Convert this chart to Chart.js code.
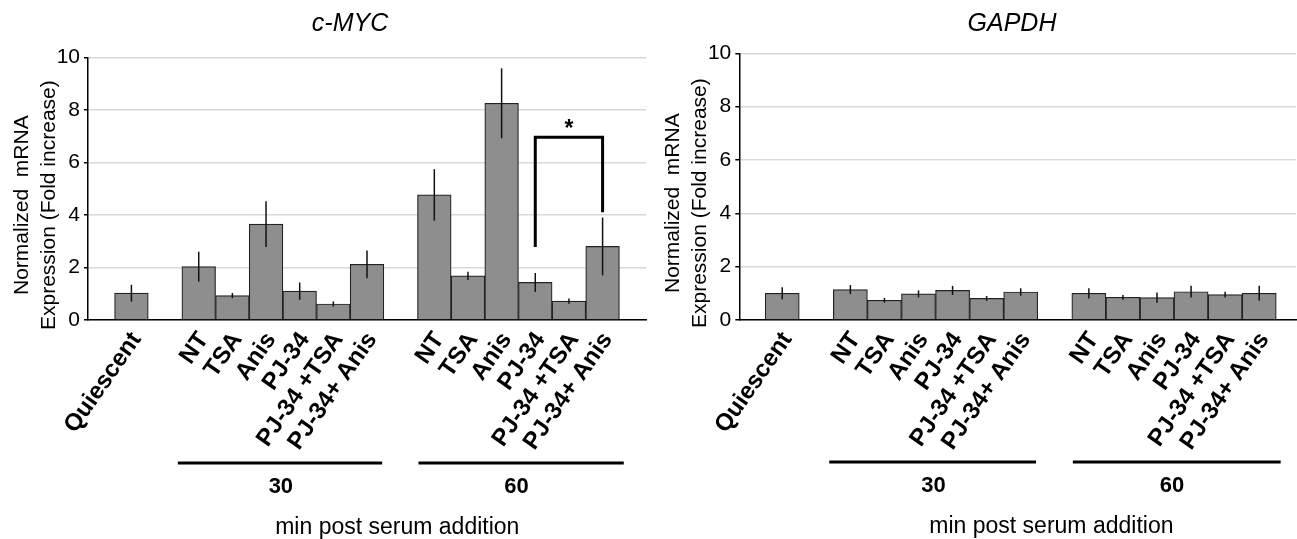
<!DOCTYPE html>
<html><head><meta charset="utf-8">
<script src="https://cdn.jsdelivr.net/npm/chart.js@4.4.1/dist/chart.umd.min.js"></script>
<style>
html,body{margin:0;padding:0;background:#fff;}
#wrap{position:relative;width:1297px;height:539px;overflow:hidden;background:#fff;}
.panel{position:absolute;top:0;height:539px;}
#p1{left:0;width:650px;}
#p2{left:650px;width:647px;}
</style></head><body>
<div id="wrap"><div class="panel" id="p1"><canvas id="c1"></canvas></div><div class="panel" id="p2"><canvas id="c2"></canvas></div></div>
<script>
// ---- data ----
const categories = ['Quiescent', '', 'NT', 'TSA', 'Anis', 'PJ-34', 'PJ-34 +TSA', 'PJ-34+ Anis', '', 'NT', 'TSA', 'Anis', 'PJ-34', 'PJ-34 +TSA', 'PJ-34+ Anis'];
const mycValues   = [1.02, null, 2.03, 0.93, 3.65, 1.10, 0.61, 2.12, null, 4.76, 1.68, 8.25, 1.43, 0.72, 2.80];
const mycErrors   = [0.32, null, 0.57, 0.10, 0.87, 0.33, 0.10, 0.53, null, 0.98, 0.16, 1.33, 0.36, 0.10, 1.10];
const gapdhValues = [1.00, null, 1.14, 0.74, 0.98, 1.11, 0.81, 1.05, null, 1.00, 0.85, 0.84, 1.06, 0.95, 1.00];
const gapdhErrors = [0.23, null, 0.17, 0.09, 0.13, 0.17, 0.09, 0.14, null, 0.19, 0.09, 0.19, 0.22, 0.11, 0.28];
const yTicks = [0, 2, 4, 6, 8, 10];
const groupLabels = ['30', '60'];
const groupRanges = [[2, 7], [9, 14]];
const xAxisTitle = 'min post serum addition';
const yAxisTitle = ['Normalized  mRNA', 'Expression (Fold increase)'];
const mycTitle = 'c-MYC';
const gapdhTitle = 'GAPDH';
const mycSignificance = {from: 12, to: 14, top: 6.96, leftBottom: 2.78, rightBottom: 4.1, label: '*'};

const FONT = "'Liberation Sans', Arial, Helvetica, sans-serif";

const extrasPlugin = {
  id: 'extras',
  afterDatasetsDraw(chart, args, opts) {
    const ctx = chart.ctx;
    const xs = chart.scales.x, ys = chart.scales.y;
    const ca = chart.chartArea;
    ctx.save();
    // error bars
    ctx.strokeStyle = '#111';
    ctx.lineWidth = 1.5;
    opts.values.forEach((v, i) => {
      if (v == null) return;
      const e = opts.errors[i];
      const x = xs.getPixelForValue(i);
      ctx.beginPath();
      ctx.moveTo(x, ys.getPixelForValue(v + e));
      ctx.lineTo(x, ys.getPixelForValue(v - e));
      ctx.stroke();
    });
    // significance bracket
    if (opts.sig) {
      const s = opts.sig;
      const x1 = xs.getPixelForValue(s.from), x2 = xs.getPixelForValue(s.to);
      const yt = ys.getPixelForValue(s.top);
      ctx.lineWidth = 3;
      ctx.strokeStyle = '#000';
      ctx.lineJoin = 'miter';
      ctx.beginPath();
      ctx.moveTo(x1, ys.getPixelForValue(s.leftBottom));
      ctx.lineTo(x1, yt);
      ctx.lineTo(x2, yt);
      ctx.lineTo(x2, ys.getPixelForValue(s.rightBottom));
      ctx.stroke();
      ctx.fillStyle = '#000';
      ctx.font = 'bold 23px ' + FONT;
      ctx.textAlign = 'center';
      ctx.textBaseline = 'alphabetic';
      ctx.fillText(s.label, (x1 + x2) / 2, yt - 1);
    }
    // chart title
    ctx.fillStyle = '#000';
    ctx.font = 'italic 25px ' + FONT;
    ctx.textAlign = 'center';
    ctx.textBaseline = 'middle';
    ctx.fillText(opts.title, opts.titleX, 24);
    // y axis title
    ctx.font = '21px ' + FONT;
    const cy = (ca.top + ca.bottom) / 2 + 16.5;
    [ca.left - 66, ca.left - 39].forEach((lx, k) => {
      ctx.save();
      ctx.translate(lx, cy);
      ctx.rotate(-Math.PI / 2);
      ctx.fillText(yAxisTitle[k], 0, 0);
      ctx.restore();
    });
    // group lines and labels
    groupRanges.forEach((r, k) => {
      const a = xs.getPixelForValue(r[0] - opts.groupPad[k][0]);
      const b = xs.getPixelForValue(r[1] + opts.groupPad[k][1]);
      ctx.lineWidth = 3;
      ctx.strokeStyle = '#000';
      ctx.beginPath();
      ctx.moveTo(a, opts.groupY);
      ctx.lineTo(b, opts.groupY);
      ctx.stroke();
      ctx.font = 'bold 22px ' + FONT;
      ctx.textAlign = 'center';
      ctx.textBaseline = 'middle';
      ctx.fillText(groupLabels[k], xs.getPixelForValue((r[0] + r[1]) / 2) - 2, opts.groupY + 24);
    });
    ctx.font = '23px ' + FONT;
    ctx.textAlign = 'center';
    ctx.textBaseline = 'middle';
    ctx.fillText(xAxisTitle, xs.getPixelForValue(7.9), opts.groupY + 65);
    ctx.restore();
  }
};

function makeChart(id, values, errors, cfg) {
  const data = categories.map((c, i) => ({x: i, y: values[i]})).filter(d => d.y != null);
  return new Chart(document.getElementById(id), {
    type: 'bar',
    data: {
      datasets: [{
        data: data,
        backgroundColor: '#8e8e8e',
        borderColor: '#222',
        borderWidth: 1.2,
        barPercentage: 1.0,
        categoryPercentage: 1.0
      }]
    },
    plugins: [extrasPlugin],
    options: {
      responsive: true,
      maintainAspectRatio: false,
      animation: false,
      layout: {padding: {top: cfg.top, right: cfg.right, left: 0, bottom: 0}},
      plugins: {
        legend: {display: false},
        tooltip: {enabled: false},
        title: {display: false},
        extras: {
          values: values, errors: errors, sig: cfg.sig, title: cfg.title, titleX: cfg.titleX,
          groupY: cfg.groupY, groupPad: [[0.62, 0.45], [0.47, 0.63]]
        }
      },
      scales: {
        x: {
          type: 'linear',
          offset: false,
          min: cfg.xmin, max: cfg.xmax,
          grid: {display: false, drawTicks: false, offset: false},
          border: {display: true, color: '#000', width: 1.5},
          afterBuildTicks: s => { s.ticks = categories.map((c, i) => c ? {value: i} : null).filter(Boolean); },
          afterFit: s => { s.height = 219; },
          ticks: {
            autoSkip: false,
            minRotation: 55, maxRotation: 55,
            padding: 7,
            labelOffset: 5,
            color: '#000',
            font: {family: FONT, size: 24, weight: 'bold'},
            callback: v => categories[v]
          }
        },
        y: {
          min: 0, max: 10,
          afterBuildTicks: s => { s.ticks = yTicks.map(v => ({value: v})); },
          afterFit: s => { s.width = cfg.yWidth; },
          grid: {color: '#d9d9d9', lineWidth: 1.5, tickColor: '#000', tickLength: 4},
          border: {display: true, color: '#000', width: 1.5},
          ticks: {color: '#000', padding: 4, font: {family: FONT, size: 21}}
        }
      }
    }
  });
}

makeChart('c1', mycValues, mycErrors, {
  top: 57.3, right: 4, yWidth: 88, xmin: -1.29, xmax: 15.29,
  sig: mycSignificance, title: mycTitle, titleX: 350, groupY: 463
});
makeChart('c2', gapdhValues, gapdhErrors, {
  top: 53.3, right: 1, yWidth: 89.3, xmin: -1.26, xmax: 15.08,
  sig: null, title: gapdhTitle, titleX: 362, groupY: 462
});
</script>
</body></html>
